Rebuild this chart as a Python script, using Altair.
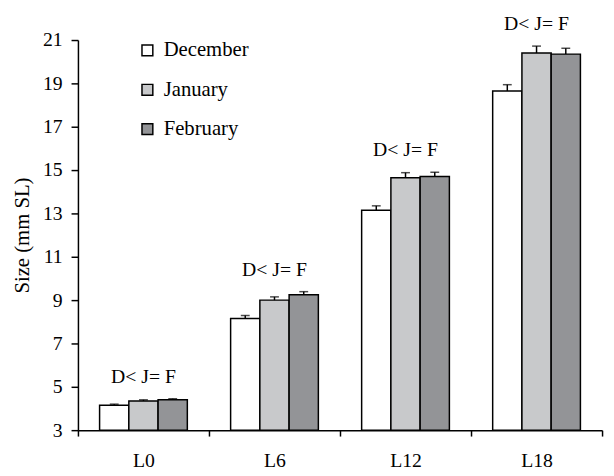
import altair as alt
import pandas as pd

stages = ["L0", "L6", "L12", "L18"]
months = ["December", "January", "February"]
december = [4.15, 8.15, 13.15, 18.65]
january = [4.35, 9.0, 14.65, 20.4]
february = [4.4, 9.25, 14.7, 20.35]
december_se = [0.05, 0.14, 0.2, 0.29]
january_se = [0.05, 0.15, 0.23, 0.32]
february_se = [0.05, 0.14, 0.2, 0.27]
annotations = ["D< J= F", "D< J= F", "D< J= F", "D< J= F"]
fills = ["#ffffff", "#c8c9cb", "#939497"]
y_ticks = [3, 5, 7, 9, 11, 13, 15, 17, 19, 21]

rows = []
for i, s in enumerate(stages):
    for m, vals, ses in zip(months, [december, january, february],
                            [december_se, january_se, february_se]):
        rows.append({"stage": s, "month": m, "size": vals[i], "upper": vals[i] + ses[i]})
df = pd.DataFrame(rows)

ann = pd.DataFrame({
    "stage": stages,
    "label": annotations,
    "top": [max(d + ds, j + js, f + fs) for d, j, f, ds, js, fs in
            zip(december, january, february, december_se, january_se, february_se)],
})

FONT = "Liberation Serif"

x_enc = alt.X("stage:N", sort=stages,
              scale=alt.Scale(paddingInner=0, paddingOuter=0),
              axis=alt.Axis(title=None, labelAngle=0, tickBand="extent",
                            labelFont=FONT, labelFontSize=20, labelPadding=15,
                            tickSize=6, labelColor="black", domainColor="black",
                            tickColor="black", domainWidth=1.5, tickWidth=1.5))
xoff = alt.XOffset("month:N", sort=months,
                   scale=alt.Scale(paddingInner=0, paddingOuter=0.74))
y_scale = alt.Scale(domain=[3, 21], nice=False, zero=False)
y_axis = alt.Axis(title="Size (mm SL)", values=y_ticks, tickSize=7,
                  labelFont=FONT, titleFont=FONT,
                  labelFontSize=20, labelPadding=9, titleFontSize=21,
                  titleFontWeight="normal", titlePadding=10,
                  labelColor="black", titleColor="black", domainColor="black",
                  tickColor="black", domainWidth=1.5, tickWidth=1.5, grid=False)

base = alt.Chart(df)

bars = base.mark_bar(stroke="black", strokeWidth=1.5).encode(
    x=x_enc,
    xOffset=xoff,
    y=alt.Y("size:Q", scale=y_scale, axis=y_axis),
    y2=alt.datum(3),
    fill=alt.Fill("month:N", sort=months,
                  scale=alt.Scale(domain=months, range=fills),
                  legend=alt.Legend(title=None, orient="none", legendX=60, legendY=0,
                                    symbolType="square", symbolSize=121,
                                    symbolStrokeColor="black", symbolStrokeWidth=1.5,
                                    labelFontSize=21, labelFont=FONT, labelColor="black",
                                    rowPadding=18, labelOffset=6, padding=0)),
)

stems = base.mark_rule(color="black", strokeWidth=1.5).encode(
    x=alt.X("stage:N", sort=stages),
    xOffset=alt.XOffset("month:N", sort=months),
    y=alt.Y("size:Q"),
    y2="upper:Q",
)

caps = base.mark_tick(color="black", thickness=1.5, size=9).encode(
    x=alt.X("stage:N", sort=stages),
    xOffset=alt.XOffset("month:N", sort=months),
    y=alt.Y("upper:Q"),
)

text = alt.Chart(ann).mark_text(font=FONT, fontSize=20, baseline="alphabetic",
                                dy=-16, color="black").encode(
    x=alt.X("stage:N", sort=stages),
    y=alt.Y("top:Q"),
    text="label:N",
)

chart = alt.layer(bars, stems, caps, text).properties(
    width=532, height=396,
    padding={"left": 71, "top": 29, "right": 4, "bottom": 42},
    autosize=alt.AutoSizeParams(type="none"),
).configure_view(stroke=None)

chart.save("out.html", embed_options={"renderer": "svg", "actions": False})
